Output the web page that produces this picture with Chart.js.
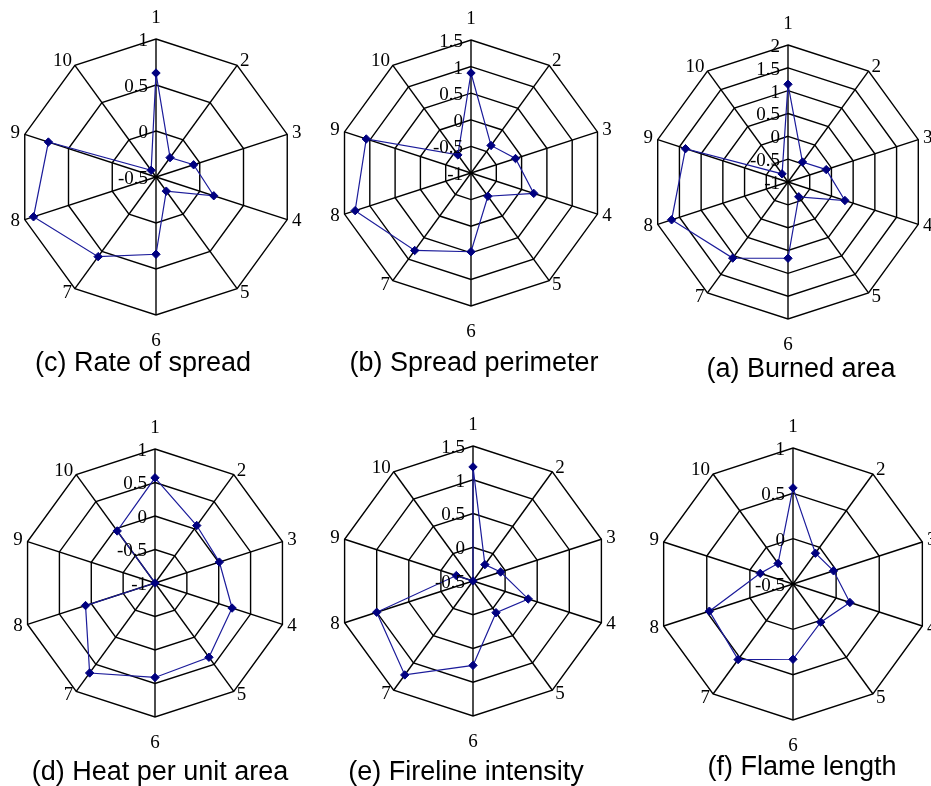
<!DOCTYPE html>
<html>
<head>
<meta charset="utf-8">
<script src="https://cdn.jsdelivr.net/npm/chart.js@4.4.1/dist/chart.umd.min.js"></script>
<style>
  body { margin: 0; background: #fff; width: 931px; height: 786px; overflow: hidden; position: relative; }
  canvas { position: absolute; }
  .cap { position: absolute; width: 400px; text-align: center; font: 27px/27px 'Liberation Sans', Arial, sans-serif; color: #000; white-space: nowrap; }
</style>
</head>
<body>
<script>
// axis names, same for every panel
var axisLabels = ['1', '2', '3', '4', '5', '6', '7', '8', '9', '10']

// values
var rateOfSpread = [0.63, -0.24, -0.07, 0.16, -0.31, 0.34, 0.57, 0.90, 0.73, -0.41]
var spreadPerimeter = [0.88, -0.36, -0.12, 0.24, -0.46, 0.48, 0.80, 1.29, 1.07, -0.58]
var burnedArea = [1.14, -0.46, -0.12, 0.31, -0.60, 0.67, 1.06, 1.68, 1.36, -0.78]
var heatPerUnitArea = [0.57, 0.06, 0.01, 0.21, 0.37, 0.41, 0.66, 0.09, -1, -0.04]
var firelineIntensity = [1.19, -0.20, -0.07, 0.36, 0.08, 0.75, 1.22, 1.00, -0.24, -0.5]
var flameLength = [0.56, -0.08, -0.03, 0.16, 0.02, 0.33, 0.53, 0.47, -0.12, -0.22]

// axis range (min, max) of each panel, ticks every 0.5
var rangeRate = [-0.5, 1]
var rangePerimeter = [-1, 1.5]
var rangeBurned = [-1, 2]
var rangeHeat = [-1, 1]
var rangeFireline = [-0.5, 1.5]
var rangeFlame = [-0.5, 1]
var tickStep = 0.5

// where each panel sits on the page
var panels = [
  { title: '(c) Rate of spread', data: rateOfSpread, range: rangeRate, cx: 156, cy: 177, r: 138, tx: 143, ty: 362 },
  { title: '(b) Spread perimeter', data: spreadPerimeter, range: rangePerimeter, cx: 471, cy: 173, r: 133, tx: 474, ty: 362 },
  { title: '(a) Burned area', data: burnedArea, range: rangeBurned, cx: 788, cy: 182, r: 137, tx: 801, ty: 368 },
  { title: '(d) Heat per unit area', data: heatPerUnitArea, range: rangeHeat, cx: 155, cy: 583, r: 134, tx: 160, ty: 771 },
  { title: '(e) Fireline intensity', data: firelineIntensity, range: rangeFireline, cx: 473, cy: 581, r: 135, tx: 466, ty: 771 },
  { title: '(f) Flame length', data: flameLength, range: rangeFlame, cx: 793, cy: 584, r: 136, tx: 802, ty: 766 }
]

var edge = 20 // room above/below for the "1" and "6" labels

// tick values sit left of the first axis, like excel does it
var tickText = {
  id: 'tickText',
  afterDatasetsDraw: function (chart) {
    var s = chart.scales.r
    var ctx = chart.ctx
    ctx.save()
    ctx.font = '19px "Liberation Serif", serif'
    ctx.fillStyle = '#000'
    ctx.textAlign = 'right'
    ctx.textBaseline = 'middle'
    s.ticks.forEach(function (t) {
      var d = s.getDistanceFromCenterForValue(t.value)
      ctx.fillText(String(t.value), s.xCenter - 8, s.yCenter - d + 2)
    })
    ctx.restore()
  }
}

panels.forEach(function (p) {
  var r0 = p.r + 26
  var h = r0 * 2 + edge * 2
  var w = r0 * 2 + 40
  var cv = document.createElement('canvas')
  cv.width = w
  cv.height = h
  cv.style.left = (p.cx - w / 2) + 'px'
  cv.style.top = (p.cy - r0 - edge + 3) + 'px'
  document.body.appendChild(cv)

  new Chart(cv, {
    type: 'radar',
    data: {
      labels: axisLabels,
      datasets: [{
        data: p.data,
        borderColor: '#1b1b9a',
        borderWidth: 1.2,
        fill: false,
        pointStyle: 'rectRot',
        pointRadius: 4.2,
        pointBackgroundColor: '#000080',
        pointBorderColor: '#000080',
        pointBorderWidth: 1
      }]
    },
    options: {
      responsive: false,
      animation: false,
      layout: { padding: { top: edge, bottom: edge, left: 0, right: 0 } },
      elements: { line: { tension: 0 } },
      plugins: {
        legend: { display: false },
        tooltip: { enabled: false }
      },
      scales: {
        r: {
          min: p.range[0],
          max: p.range[1],
          ticks: { display: false, stepSize: tickStep },
          grid: { color: '#000', lineWidth: 1.4 },
          angleLines: { color: '#000', lineWidth: 1.4 },
          pointLabels: {
            color: '#000',
            font: { family: '"Liberation Serif", serif', size: 19, lineHeight: 0 },
            padding: function (c) {
              if (c.index === 0) return 21
              if (c.index === 5) return 26
              return 5
            }
          }
        }
      }
    },
    plugins: [tickText]
  })

  var cap = document.createElement('div')
  cap.className = 'cap'
  cap.textContent = p.title
  cap.style.left = (p.tx - 200) + 'px'
  cap.style.top = (p.ty - 13) + 'px'
  document.body.appendChild(cap)
})
</script>
</body>
</html>
